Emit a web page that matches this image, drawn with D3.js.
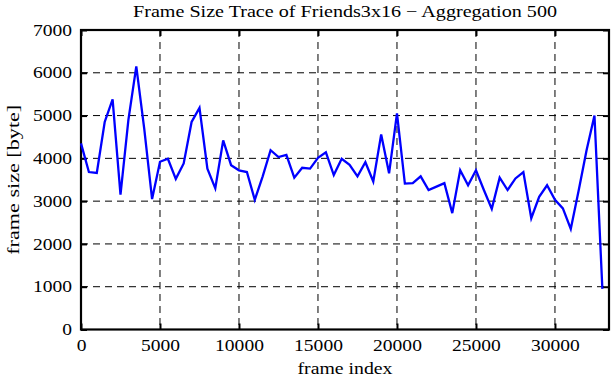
<!DOCTYPE html>
<html>
<head>
<meta charset="utf-8">
<script src="https://cdn.jsdelivr.net/npm/d3@7"></script>
<style>
  html, body { margin: 0; padding: 0; background: #fff; }
  svg { display: block; }
  text { font-family: "Liberation Serif", "DejaVu Serif", serif; fill: #000; }
</style>
</head>
<body>
<svg id="chart" width="611" height="380"></svg>
<script>
const titleText = "Frame Size Trace of Friends3x16 \u2212 Aggregation 500";
const xLabel = "frame index";
const yLabel = "frame size [byte]";
const aggregation = 500;
const frameSizes = [
  4350, 3680, 3660, 4850, 5380, 3150, 4900, 6150, 4700, 3050,
  3920, 3990, 3520, 3880, 4850, 5180, 3760, 3300, 4420, 3840,
  3720, 3680, 3030, 3580, 4190, 4030, 4080, 3550, 3780, 3760,
  4010, 4140, 3610, 3990, 3850, 3580, 3910, 3460, 4560, 3650,
  5050, 3410, 3420, 3580, 3260, 3340, 3420, 2720, 3720, 3370,
  3720, 3260, 2820, 3550, 3260, 3530, 3680, 2600, 3100, 3370,
  3030, 2830, 2350, 3250, 4190, 5000, 950
];
const frameIndex = frameSizes.map((d, i) => i * aggregation);
const xTicks = [0, 5000, 10000, 15000, 20000, 25000, 30000];
const yTicks = [0, 1000, 2000, 3000, 4000, 5000, 6000, 7000];
const xDomain = [0, 33420];
const yDomain = [0, 7000];

const svg = d3.select("#chart");
const L = 81, R = 609, T = 30, B = 329.5;
const x = d3.scaleLinear().domain(xDomain).range([L, R]);
const y = d3.scaleLinear().domain(yDomain).range([B, T]);

function stretch(sel, factor) {
  sel.each(function() {
    const w = this.getComputedTextLength();
    d3.select(this).attr("textLength", w * factor).attr("lengthAdjust", "spacingAndGlyphs");
  });
}

// grid
const grid = svg.append("g");
grid.selectAll(".gx").data(xTicks.filter(t => t > 0)).enter().append("line")
  .attr("x1", d => x(d)).attr("x2", d => x(d)).attr("y1", T).attr("y2", B)
  .attr("stroke", "#000").attr("stroke-width", 1).attr("stroke-dasharray", "7,5");
grid.selectAll(".gy").data(yTicks.filter(t => t > 0 && t < 7000)).enter().append("line")
  .attr("x1", L).attr("x2", R).attr("y1", d => y(d)).attr("y2", d => y(d))
  .attr("stroke", "#000").attr("stroke-width", 1).attr("stroke-dasharray", "7,5");

// axes
const fs = 16;
const xAxis = d3.axisBottom(x).tickValues(xTicks).tickSize(-6).tickPadding(10).tickFormat(d3.format("d"));
const gx = svg.append("g").attr("transform", `translate(0,${B})`).call(xAxis);
const xTop = d3.axisTop(x).tickValues(xTicks).tickSize(-6).tickFormat("");
const gxt = svg.append("g").attr("transform", `translate(0,${T})`).call(xTop);
const yAxis = d3.axisLeft(y).tickValues(yTicks).tickSize(-6).tickPadding(9).tickFormat(d3.format("d"));
const gy = svg.append("g").attr("transform", `translate(${L},0)`).call(yAxis);
const yRight = d3.axisRight(y).tickValues(yTicks).tickSize(-6).tickFormat("");
const gyr = svg.append("g").attr("transform", `translate(${R},0)`).call(yRight);

[gx, gxt, gy, gyr].forEach(g => {
  g.select(".domain").remove();
  g.selectAll(".tick line").attr("stroke", "#000").attr("stroke-width", 2);
  g.selectAll(".tick text").attr("font-family", "Liberation Serif").attr("font-size", fs).attr("fill", "#000");
});
stretch(gx.selectAll(".tick text"), 1.22);
stretch(gy.selectAll(".tick text"), 1.22);

// frame border
svg.append("rect").attr("x", L).attr("y", T).attr("width", R - L).attr("height", B - T)
  .attr("fill", "none").attr("stroke", "#000").attr("stroke-width", 2.2);

// line
const line = d3.line().x((d, i) => x(frameIndex[i])).y(d => y(d));
svg.append("path").datum(frameSizes).attr("d", line)
  .attr("fill", "none").attr("stroke", "#0000ff").attr("stroke-width", 2.3).attr("stroke-linejoin", "miter");

// labels
const t1 = svg.append("text").attr("x", (L + R) / 2).attr("y", 17).attr("text-anchor", "middle")
  .attr("font-size", fs).text(titleText);
t1.attr("textLength", 424).attr("lengthAdjust", "spacingAndGlyphs");
const t2 = svg.append("text").attr("x", (L + R) / 2).attr("y", 374).attr("text-anchor", "middle")
  .attr("font-size", fs).text(xLabel);
t2.attr("textLength", 95).attr("lengthAdjust", "spacingAndGlyphs");
const t3 = svg.append("text").attr("transform", `translate(19,${(T + B) / 2}) rotate(-90)`).attr("text-anchor", "middle")
  .attr("font-size", fs).text(yLabel);
t3.attr("textLength", 150).attr("lengthAdjust", "spacingAndGlyphs");
</script>
</body>
</html>
